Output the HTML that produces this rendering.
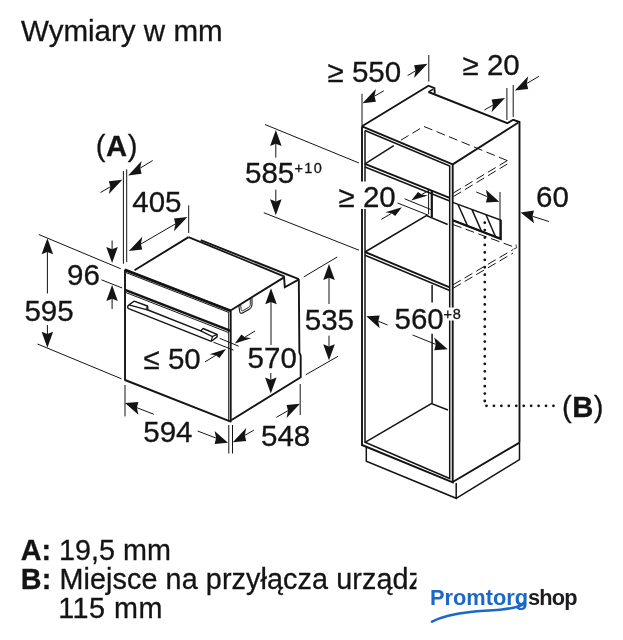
<!DOCTYPE html>
<html><head><meta charset="utf-8"><title>Wymiary w mm</title>
<style>
html,body{margin:0;padding:0;background:#fff;}
body{width:623px;height:640px;overflow:hidden;font-family:"Liberation Sans",sans-serif;}
svg{display:block;position:absolute;left:0;top:0;will-change:transform;}
svg text{font-family:"Liberation Sans",sans-serif;fill:#141414;}
</style></head><body>
<svg width="623" height="640" viewBox="0 0 623 640" fill="none" stroke="#141414" stroke-linecap="butt" stroke-linejoin="miter">
<text transform="translate(21,40.5) scale(1,1.0)" font-size="29.55" text-anchor="start" font-weight="normal" stroke="#141414" stroke-width="0.3">Wymiary w mm</text>
<text transform="translate(20.8,559.7) scale(1,1.03)" font-size="28.75" text-anchor="start" font-weight="normal" stroke="#141414" stroke-width="0.3"><tspan font-weight="bold">A:</tspan> 19,5 mm</text>
<text transform="translate(20.8,588.9) scale(1,1.03)" font-size="28.75" text-anchor="start" font-weight="normal" letter-spacing="0.1" stroke="#141414" stroke-width="0.3"><tspan font-weight="bold">B:</tspan> Miejsce na przyłącza urządzenia</text>
<text transform="translate(58.2,617.8) scale(1,1.03)" font-size="28.75" text-anchor="start" font-weight="normal" letter-spacing="0.5" stroke="#141414" stroke-width="0.3">115 mm</text>
<path d="M125.0,269.5 L230.7,310.3 L230.7,421.6 L125.0,380.0 L125.0,269.5" stroke-width="1.9" stroke-linejoin="round"/>
<path d="M125.5,270.3 L230.2,310.8" stroke-width="2.4" />
<path d="M126.0,272.6 L228.7,312.4" stroke-width="1.0" />
<path d="M228.7,311.7 L228.7,420.5" stroke-width="1.0" />
<path d="M125.0,289.8 L230.7,330.8" stroke-width="2.5" />
<path d="M126.0,292.6 L228.7,332.6" stroke-width="1.0" />
<path d="M134.5,270.3 L188.5,237.1" stroke-width="1.9" />
<path d="M188.5,237.1 L284.6,276.6" stroke-width="1.7" />
<path d="M200.7,240.2 L298.8,279.2" stroke-width="1.9" />
<path d="M284.0,276.3 L284.8,287.3 L298.5,279.6" stroke-width="1.9" />
<path d="M231.0,310.2 L283.6,277.6" stroke-width="1.9" />
<path d="M298.8,279.0 L299.4,352.5 L300.7,355.7 L300.7,377.3 L231.2,420.3" stroke-width="1.9" />
<path d="M238.8,305.4 L239.6,311 C239.8,313.4 241.2,313.8 243,312.8 L249.6,309 C251.6,307.8 252,306.6 252,304.5 L252,297.4" stroke-width="1.1"/>
<path d="M240.6,304.4 L241.2,309.6 C241.4,311 242,311.2 243,310.6 L248.8,307.2 C250,306.4 250.3,305.6 250.3,304.4 L250.3,298.4" stroke-width="0.9"/>
<path d="M129,304.9 L134,301.2 L147.5,306 L148,310 L200.7,330.9 L203.1,328.5 L217.1,334.3 L217.1,336.9 L211.3,341.3 L128.6,308.6 C127.2,307.8 127.4,305.8 129,304.9 Z" stroke-width="1.4" fill="#fff" stroke-linejoin="round"/>
<path d="M129.0,304.9 L148.0,310.2" stroke-width="1.3" />
<path d="M145.8,309.4 L147.5,306.0" stroke-width="1.0" />
<path d="M200.7,330.9 L212.3,336.5 L217.1,334.3" stroke-width="1.3" />
<path d="M212.3,336.5 L211.4,341.2" stroke-width="1.2" />
<path d="M123.4,171.0 L123.4,263.8" stroke-width="1.0" />
<path d="M126.7,169.4 L126.7,262.0" stroke-width="1.0" />
<polygon points="128.2,175.4 141.6,173.7 140.2,168.1 141.6,160.9" fill="#141414" stroke="none"/>
<path d="M152.7,160.5 L140.2,168.1" stroke-width="1.0" />
<polygon points="122.3,179.8 108.9,194.0 110.3,186.8 108.9,181.2" fill="#141414" stroke="none"/>
<path d="M100.5,192.5 L110.3,186.8" stroke-width="1.0" />
<text transform="translate(95.8,155.6) scale(1,1.0)" font-size="29.2" text-anchor="start" font-weight="normal" letter-spacing="0.5" stroke="#141414" stroke-width="0.3">(<tspan font-weight="bold">A</tspan>)</text>
<path d="M188.7,205.4 L188.7,233.0" stroke-width="1.0" />
<polygon points="128.9,251.0 142.3,249.6 140.9,244.0 142.3,236.8" fill="#141414" stroke="none"/>
<polygon points="187.4,217.0 174.0,231.2 175.4,224.0 174.0,218.4" fill="#141414" stroke="none"/>
<path d="M140.0,244.5 L176.0,223.6" stroke-width="1.0" />
<text transform="translate(132.3,212.2) scale(1,1.0)" font-size="29.5" text-anchor="start" font-weight="normal" stroke="#141414" stroke-width="0.3">405</text>
<path d="M38.8,234.5 L120.8,268.8" stroke-width="1.0" />
<path d="M101.4,279.8 L122.2,288.0" stroke-width="1.0" />
<polygon points="112.1,263.0 106.3,247.0 112.1,249.2 117.8,247.0" fill="#141414" stroke="none"/>
<path d="M112.1,240.5 L112.1,249.2" stroke-width="1.0" />
<polygon points="112.1,285.0 117.8,301.0 112.1,298.8 106.3,301.0" fill="#141414" stroke="none"/>
<path d="M112.1,309.0 L112.1,298.8" stroke-width="1.0" />
<text transform="translate(67,284.5) scale(1,1.0)" font-size="29.5" text-anchor="start" font-weight="normal" stroke="#141414" stroke-width="0.3">96</text>
<path d="M37.5,344.0 L121.5,378.8" stroke-width="1.0" />
<polygon points="47.4,238.3 53.1,254.3 47.4,252.1 41.6,254.3" fill="#141414" stroke="none"/>
<path d="M47.4,293.5 L47.4,252.1" stroke-width="1.0" />
<polygon points="47.4,347.8 41.6,331.8 47.4,334.0 53.1,331.8" fill="#141414" stroke="none"/>
<path d="M47.4,325.0 L47.4,334.0" stroke-width="1.0" />
<text transform="translate(24.4,320.5) scale(1,1.0)" font-size="29.5" text-anchor="start" font-weight="normal" stroke="#141414" stroke-width="0.3">595</text>
<path d="M213.4,342.2 L233.6,350.1" stroke-width="1.0" />
<path d="M219.6,338.3 L238.7,346.2" stroke-width="1.0" />
<polygon points="226.0,349.0 219.4,357.9 215.9,355.2 209.6,354.2" fill="#141414" stroke="none"/>
<path d="M205.0,361.9 L215.9,355.2" stroke-width="1.0" />
<polygon points="234.8,343.4 251.2,338.2 244.9,337.2 241.4,334.5" fill="#141414" stroke="none"/>
<path d="M255.0,331.0 L244.9,337.2" stroke-width="1.0" />
<text transform="translate(143.5,369.4) scale(1,1.0)" font-size="29.5" text-anchor="start" font-weight="normal" stroke="#141414" stroke-width="0.3">≤ 50</text>
<polygon points="271.0,288.2 276.8,304.2 271.0,302.0 265.2,304.2" fill="#141414" stroke="none"/>
<path d="M271.0,345.0 L271.0,302.0" stroke-width="1.0" />
<polygon points="270.8,393.5 265.1,377.5 270.8,379.7 276.6,377.5" fill="#141414" stroke="none"/>
<path d="M270.8,373.0 L270.8,379.7" stroke-width="1.0" />
<text transform="translate(247.6,368.2) scale(1,1.0)" font-size="29.5" text-anchor="start" font-weight="normal" stroke="#141414" stroke-width="0.3">570</text>
<path d="M303.8,276.9 L337.2,257.0" stroke-width="1.0" />
<path d="M305.7,374.8 L338.0,356.3" stroke-width="1.0" />
<polygon points="329.0,264.0 334.8,280.0 329.0,277.8 323.2,280.0" fill="#141414" stroke="none"/>
<path d="M329.0,304.0 L329.0,277.8" stroke-width="1.0" />
<polygon points="329.0,360.2 323.2,344.2 329.0,346.4 334.8,344.2" fill="#141414" stroke="none"/>
<path d="M329.0,335.6 L329.0,346.4" stroke-width="1.0" />
<text transform="translate(304.8,329.7) scale(1,1.0)" font-size="29.5" text-anchor="start" font-weight="normal" stroke="#141414" stroke-width="0.3">535</text>
<path d="M125.0,385.0 L125.0,416.4" stroke-width="1.0" />
<path d="M228.8,425.0 L228.8,453.5" stroke-width="1.0" />
<path d="M232.5,425.0 L232.5,453.5" stroke-width="1.0" />
<polygon points="125.0,403.0 138.4,414.7 136.9,407.7 138.4,401.9" fill="#141414" stroke="none"/>
<path d="M153.8,414.3 L136.9,407.7" stroke-width="1.0" />
<polygon points="228.0,442.7 214.6,443.9 216.1,438.1 214.6,431.1" fill="#141414" stroke="none"/>
<path d="M197.6,431.0 L216.1,438.1" stroke-width="1.0" />
<text transform="translate(143.3,442) scale(1,1.0)" font-size="29.5" text-anchor="start" font-weight="normal" stroke="#141414" stroke-width="0.3">594</text>
<path d="M300.2,384.0 L300.2,415.0" stroke-width="1.0" />
<polygon points="232.8,442.2 246.2,440.9 244.8,435.3 246.2,428.1" fill="#141414" stroke="none"/>
<path d="M253.8,430.2 L244.8,435.3" stroke-width="1.0" />
<polygon points="300.0,403.8 286.6,417.9 288.0,410.7 286.6,405.1" fill="#141414" stroke="none"/>
<path d="M276.4,417.3 L288.0,410.7" stroke-width="1.0" />
<text transform="translate(261,445.6) scale(1,1.0)" font-size="29.5" text-anchor="start" font-weight="normal" stroke="#141414" stroke-width="0.3">548</text>
<path d="M265.0,124.5 L359.0,163.0" stroke-width="1.0" />
<path d="M263.8,212.7 L359.0,250.2" stroke-width="1.0" />
<polygon points="275.8,130.0 281.6,146.0 275.8,143.8 270.1,146.0" fill="#141414" stroke="none"/>
<path d="M275.8,157.6 L275.8,143.8" stroke-width="1.0" />
<polygon points="275.8,215.2 270.1,199.2 275.8,201.4 281.6,199.2" fill="#141414" stroke="none"/>
<path d="M275.8,189.6 L275.8,201.4" stroke-width="1.0" />
<text transform="translate(245,183) scale(1,1.0)" font-size="29.5" text-anchor="start" font-weight="normal" stroke="#141414" stroke-width="0.3">585</text>
<text transform="translate(294.5,173) scale(1,1.0)" font-size="14.5" text-anchor="start" font-weight="normal" letter-spacing="1.4" stroke="#141414" stroke-width="0.3">+10</text>
<path d="M362.0,126.3 L452.7,164.4 L452.7,482.3 L362.0,445.0 L362.0,126.3" stroke-width="1.9" />
<path d="M365.0,130.5 L449.7,166.0 L449.7,478.5 L365.0,442.3 L365.0,130.5" stroke-width="1.5" />
<path d="M362.0,126.3 L428.5,85.7 L434.4,88.2 L434.8,93.5" stroke-width="1.9" />
<path d="M428.5,92.0 L433.2,89.2" stroke-width="1.5" />
<path d="M428.5,92.0 L507.3,123.2 L513.2,119.8 L519.5,122.0 L519.5,442.6" stroke-width="1.9" />
<path d="M452.7,164.4 L518.4,122.5" stroke-width="1.9" />
<path d="M365.0,163.8 L449.7,197.8" stroke-width="1.9" />
<path d="M365.0,167.0 L449.7,201.0" stroke-width="1.5" />
<path d="M365.0,163.8 L393.8,145.6" stroke-width="1.5" />
<path d="M365.0,252.0 L449.7,287.3" stroke-width="1.9" />
<path d="M365.0,255.2 L449.7,290.5" stroke-width="1.5" />
<path d="M365.0,252.0 L426.4,215.5 L447.7,224.5" stroke-width="1.5" />
<path d="M431.8,190.8 L431.8,217.4" stroke-width="2.2" />
<path d="M428.6,189.3 L428.6,214.2" stroke-width="1.0" />
<path d="M365.0,442.3 L431.4,403.5 L448.0,410.0" stroke-width="1.5" />
<path d="M432.1,333.8 L432.1,403.5" stroke-width="1.5" />
<path d="M432.1,285.0 L432.1,302.5" stroke-width="1.5" />
<path d="M452.7,482.0 L519.5,442.6" stroke-width="1.9" />
<path d="M366.3,447.0 L366.3,461.3 L456.2,498.3 L456.2,483.0" stroke-width="1.5" />
<path d="M456.2,498.3 L519.5,459.7 L519.5,442.6" stroke-width="1.5" />
<path d="M507.3,160.6 L423.8,126.4 L399.5,141.0" stroke-width="1.0" stroke-dasharray="9,4.5"/>
<path d="M507.3,160.6 L453.0,193.2" stroke-width="1.0" stroke-dasharray="9,4.5"/>
<path d="M507.3,164.0 L453.0,196.8" stroke-width="1.0" stroke-dasharray="9,4.5"/>
<path d="M453.0,224.5 L515.0,247.4" stroke-width="1.0" stroke-dasharray="9,4.5"/>
<path d="M453.0,284.8 L513.0,249.6" stroke-width="1.0" stroke-dasharray="9,4.5"/>
<path d="M453.0,288.3 L513.0,253.1" stroke-width="1.0" stroke-dasharray="9,4.5"/>
<path d="M513.5,249 L516.5,248 L516,244.5" stroke-width="0.8"/>
<path d="M452.7,202.4 L500.6,220 L500.6,238.8 L452.7,220.2 Z" stroke-width="1.5" fill="#fff"/>
<path d="M500.6,220.0 L500.6,238.8 L452.7,220.2" stroke-width="2.3" />
<path d="M458.0,204.5 L467.5,225.8" stroke-width="1.5" />
<path d="M472.0,209.6 L481.5,231.2" stroke-width="1.5" />
<path d="M486.0,214.8 L495.5,236.7" stroke-width="1.5" />
<path d="M484.8,401 L484.8,222" stroke-width="2.8" stroke-dasharray="0,7.43" stroke-linecap="round"/>
<path d="M486.5,405.8 L554,405.8" stroke-width="2.8" stroke-dasharray="0,7.44" stroke-linecap="round"/>
<text transform="translate(562,416.5) scale(1,1.0)" font-size="29.2" text-anchor="start" font-weight="normal" letter-spacing="0.5" stroke="#141414" stroke-width="0.3">(<tspan font-weight="bold">B</tspan>)</text>
<path d="M362.0,93.8 L362.0,126.0" stroke-width="1.0" />
<path d="M428.8,55.0 L428.8,81.5" stroke-width="1.0" />
<polygon points="362.5,103.3 375.9,101.8 374.5,96.2 375.9,89.0" fill="#141414" stroke="none"/>
<path d="M383.8,90.8 L374.5,96.2" stroke-width="1.0" />
<polygon points="427.5,63.8 414.1,78.1 415.5,70.9 414.1,65.3" fill="#141414" stroke="none"/>
<path d="M407.6,75.6 L415.5,70.9" stroke-width="1.0" />
<text transform="translate(327.5,81.5) scale(1,1.0)" font-size="29.5" text-anchor="start" font-weight="normal" stroke="#141414" stroke-width="0.3">≥ 550</text>
<path d="M506.9,88.0 L506.9,120.0" stroke-width="1.0" />
<path d="M513.2,85.0 L513.2,117.0" stroke-width="1.0" />
<polygon points="505.0,97.9 491.6,112.2 493.0,105.0 491.6,99.4" fill="#141414" stroke="none"/>
<path d="M484.4,110.0 L493.0,105.0" stroke-width="1.0" />
<polygon points="514.8,90.6 528.2,89.0 526.8,83.5 528.2,76.2" fill="#141414" stroke="none"/>
<path d="M538.9,76.3 L526.8,83.5" stroke-width="1.0" />
<text transform="translate(462.5,75) scale(1,1.0)" font-size="29.5" text-anchor="start" font-weight="normal" stroke="#141414" stroke-width="0.3">≥ 20</text>
<path d="M397.6,203.0 L428.5,215.3" stroke-width="1.0" />
<path d="M404.6,198.8 L432.0,210.0" stroke-width="1.0" />
<polygon points="411.3,200.6 427.9,195.6 421.6,194.6 418.0,192.0" fill="#141414" stroke="none"/>
<path d="M429.5,190.0 L421.6,194.6" stroke-width="1.0" />
<polygon points="401.9,207.3 395.2,216.0 391.6,213.3 385.3,212.3" fill="#141414" stroke="none"/>
<path d="M381.3,219.4 L391.6,213.3" stroke-width="1.0" />
<rect x="337" y="181.5" width="58" height="27.5" fill="#fff" stroke="none"/>
<text transform="translate(338.5,207) scale(1,1.0)" font-size="29.5" text-anchor="start" font-weight="normal" stroke="#141414" stroke-width="0.3">≥ 20</text>
<path d="M500.0,192.0 L500.0,220.0" stroke-width="1.0" />
<polygon points="499.3,201.8 485.9,202.5 487.4,196.7 485.9,189.7" fill="#141414" stroke="none"/>
<path d="M476.3,192.0 L487.4,196.7" stroke-width="1.0" />
<polygon points="520.6,212.6 534.0,223.2 532.5,216.3 534.0,210.4" fill="#141414" stroke="none"/>
<path d="M548.9,221.5 L532.5,216.3" stroke-width="1.0" />
<text transform="translate(536,207) scale(1,1.0)" font-size="29.5" text-anchor="start" font-weight="normal" stroke="#141414" stroke-width="0.3">60</text>
<polygon points="366.3,316.3 379.7,328.2 378.2,321.2 379.7,315.4" fill="#141414" stroke="none"/>
<path d="M387.6,325.0 L378.2,321.2" stroke-width="1.0" />
<polygon points="447.7,349.3 434.3,350.2 435.8,344.4 434.3,337.4" fill="#141414" stroke="none"/>
<path d="M412.6,335.0 L435.8,344.4" stroke-width="1.0" />
<text transform="translate(394.5,328.5) scale(1,1.0)" font-size="29.5" text-anchor="start" font-weight="normal" stroke="#141414" stroke-width="0.3">560</text>
<rect x="443" y="307.5" width="19" height="13" fill="#fff" stroke="none"/>
<text transform="translate(443.5,319) scale(1,1.0)" font-size="14.5" text-anchor="start" font-weight="normal" letter-spacing="0.9" stroke="#141414" stroke-width="0.3">+8</text>
<rect x="416.5" y="558" width="207" height="82" fill="#fff" stroke="none"/>
<text transform="translate(430,605.4) scale(1,1.0)" font-size="21.8" text-anchor="start" font-weight="bold" stroke="none"><tspan fill="#1b68c9">Promtorg</tspan><tspan fill="#1d1d1f" letter-spacing="-0.9">shop</tspan></text>
<path d="M432,621.6 C436,619.6 441,617.6 447.3,616 C456,613.6 465,612.4 474.6,611.4 C485,610.4 494,610.4 501.9,609.5 C511,608.5 519,607.5 524.5,603.5" stroke="#1b68c9" stroke-width="2.5" stroke-linecap="round"/>
</svg>
</body></html>
